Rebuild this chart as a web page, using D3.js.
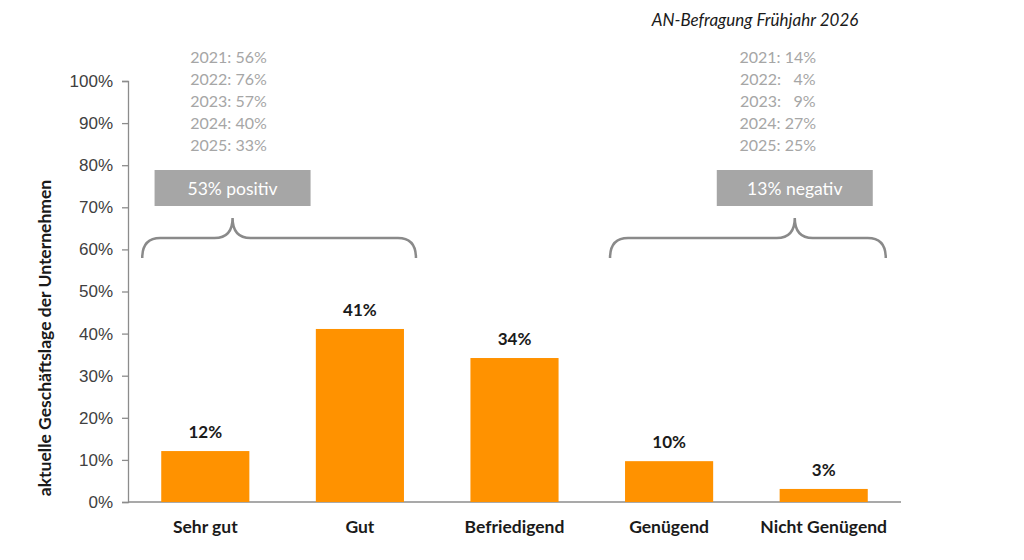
<!DOCTYPE html>
<html>
<head>
<meta charset="utf-8">
<script src="https://cdn.jsdelivr.net/npm/d3@7"></script>
<style>
  body { margin: 0; background: #fff; }
  text { font-family: Lato, "Open Sans", sans-serif; }
</style>
</head>
<body>
<svg id="chart" width="1024" height="560"></svg>
<script>
// chart data
var categories = ["Sehr gut", "Gut", "Befriedigend", "Genügend", "Nicht Genügend"];
var values = [12.1, 41.1, 34.2, 9.7, 3.1];
var valueLabels = ["12%", "41%", "34%", "10%", "3%"];
var yTicks = [0, 10, 20, 30, 40, 50, 60, 70, 80, 90, 100];

var positivYears = ["2021: 56%", "2022: 76%", "2023: 57%", "2024: 40%", "2025: 33%"];
var negativYears = ["2021: 14%", "2022:   4%", "2023:   9%", "2024: 27%", "2025: 25%"];

(function() {
  var svg = d3.select("#chart");
  var m = { left: 128, right: 901, top: 81, bottom: 502 };

  var x = d3.scaleBand().domain(categories).range([m.left, m.right])
    .paddingInner(0.43).paddingOuter(0.215);
  var y = d3.scaleLinear().domain([0, 100]).range([m.bottom, m.top]);

  // y axis
  var yAxis = svg.append("g")
    .attr("transform", "translate(" + m.left + ",0)")
    .call(d3.axisLeft(y).tickValues(yTicks).tickSize(6).tickPadding(9)
      .tickFormat(function(d) { return d + "%"; }));
  yAxis.select(".domain").attr("stroke", "#8c8c8c").attr("stroke-width", 1.3);
  yAxis.selectAll(".tick line").attr("stroke", "#8c8c8c").attr("stroke-width", 1.3);
  yAxis.selectAll(".tick text")
    .style("font-family", "'Liberation Sans', Arial, sans-serif")
    .style("font-size", "17px").attr("fill", "#404040");

  // x axis line
  svg.append("line")
    .attr("x1", m.left).attr("x2", m.right).attr("y1", m.bottom).attr("y2", m.bottom)
    .attr("stroke", "#8c8c8c").attr("stroke-width", 1.3);

  // bars
  svg.selectAll("rect.bar")
    .data(values)
    .enter().append("rect")
    .attr("class", "bar")
    .attr("x", function(d, i) { return x(categories[i]); })
    .attr("y", function(d) { return y(d); })
    .attr("width", x.bandwidth())
    .attr("height", function(d) { return m.bottom - y(d); })
    .attr("fill", "#ff9200");

  svg.selectAll("text.val")
    .data(values)
    .enter().append("text")
    .attr("class", "val")
    .attr("x", function(d, i) { return x(categories[i]) + x.bandwidth() / 2; })
    .attr("y", function(d) { return y(d) - 13; })
    .attr("text-anchor", "middle")
    .style("font-size", "17px").style("font-weight", "bold")
    .attr("fill", "#1a1a1a")
    .text(function(d, i) { return valueLabels[i]; });

  svg.selectAll("text.cat")
    .data(categories)
    .enter().append("text")
    .attr("class", "cat")
    .attr("x", function(d) { return x(d) + x.bandwidth() / 2; })
    .attr("y", 533)
    .attr("text-anchor", "middle")
    .style("font-size", "17.5px").style("font-weight", "bold")
    .attr("fill", "#1a1a1a")
    .text(function(d) { return d; });

  // y title
  svg.append("text")
    .attr("transform", "translate(51,338) rotate(-90)")
    .attr("text-anchor", "middle")
    .style("font-size", "17.5px").style("font-weight", "bold")
    .attr("fill", "#1a1a1a")
    .text("aktuelle Geschäftslage der Unternehmen");

  // title
  svg.append("text")
    .attr("x", 755).attr("y", 26)
    .attr("text-anchor", "middle")
    .style("font-size", "17px").style("font-style", "italic")
    .attr("fill", "#1a1a1a")
    .text("AN-Befragung Frühjahr 2026");

  // braces + summary boxes
  var groups = [
    { from: "Sehr gut", to: "Gut", padL: 19, padR: 12, peak: 0.33, label: "53% positiv", years: positivYears, yearShift: -4 },
    { from: "Genügend", to: "Nicht Genügend", padL: 15, padR: 18, peak: 0.67, label: "13% negativ", years: negativYears, yearShift: -17 }
  ];

  groups.forEach(function(g) {
    var x1 = x(g.from) - g.padL;
    var x2 = x(g.to) + x.bandwidth() + g.padR;
    var px = x1 + g.peak * (x2 - x1);
    var yEnd = 258, yMid = 238, yTop = 218, r = 18;

    var p = d3.path();
    p.moveTo(x1, yEnd);
    p.quadraticCurveTo(x1, yMid, x1 + r, yMid);
    p.lineTo(px - r, yMid);
    p.quadraticCurveTo(px, yMid, px, yTop);
    p.quadraticCurveTo(px, yMid, px + r, yMid);
    p.lineTo(x2 - r, yMid);
    p.quadraticCurveTo(x2, yMid, x2, yEnd);
    svg.append("path").attr("d", p.toString())
      .attr("fill", "none").attr("stroke", "#8a8a8a").attr("stroke-width", 2.5);

    svg.append("rect")
      .attr("x", px - 78).attr("y", 170).attr("width", 156).attr("height", 36)
      .attr("fill", "#a6a6a6");
    svg.append("text")
      .attr("x", px).attr("y", 195)
      .attr("text-anchor", "middle")
      .style("font-size", "17.5px").attr("fill", "#ffffff")
      .text(g.label);

    svg.selectAll(null)
      .data(g.years)
      .enter().append("text")
      .attr("x", px + g.yearShift)
      .attr("y", function(d, i) { return 63 + i * 22; })
      .attr("text-anchor", "middle")
      .style("font-size", "16px").style("white-space", "pre")
      .attr("xml:space", "preserve")
      .attr("fill", "#a6a6a6")
      .text(function(d) { return d; });
  });
})();
</script>
</body>
</html>
